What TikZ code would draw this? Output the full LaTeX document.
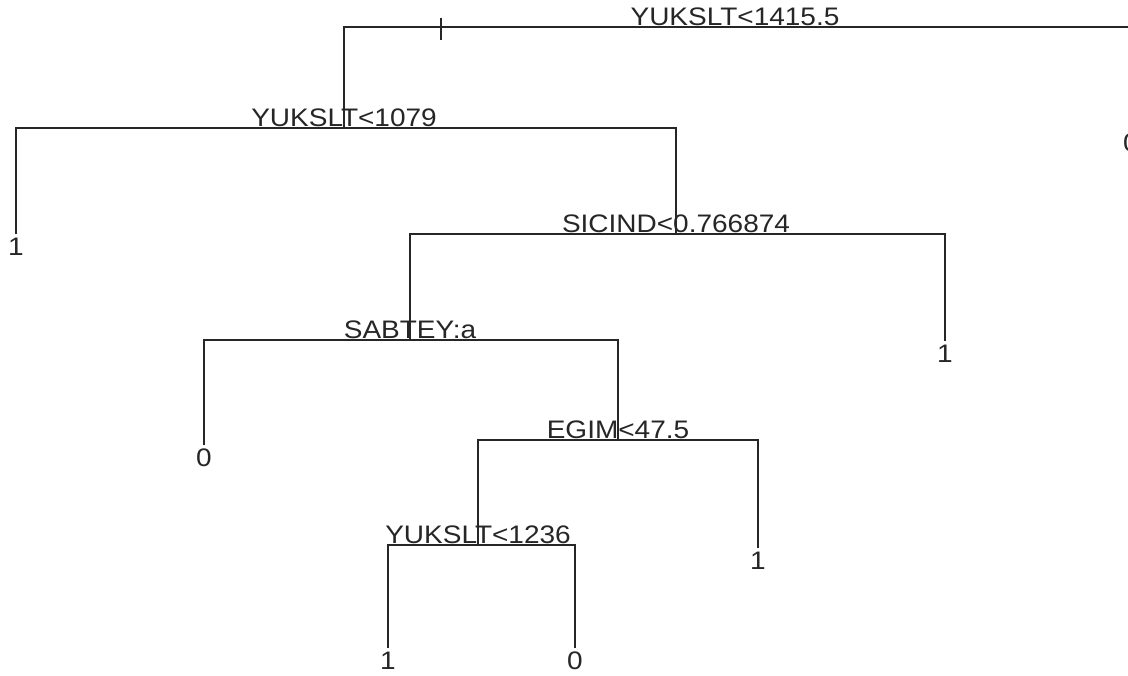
\documentclass[tikz,border=0pt]{standalone}
\usepackage{fontspec}
\setmainfont{Liberation Sans}
\begin{document}
\begin{tikzpicture}[x=0.75pt,y=-0.75pt,
  edge/.style={line width=1.1pt, draw=black!85},
  split/.style={anchor=base, inner sep=0pt, xscale=1.105, font=\fontsize{19}{21}\selectfont, text=black!85},
  leaf/.style={anchor=north, inner sep=0pt, xscale=1.105, font=\fontsize{19}{21}\selectfont, text=black!85}]
\useasboundingbox[fill=white] (0,0) rectangle (1128,675);
% split label positions (horizontal bar y)
\coordinate (r)  at (735,27);
\coordinate (a)  at (344,128);
\coordinate (b)  at (676,234);
\coordinate (c)  at (410,340);
\coordinate (d)  at (618,440);
\coordinate (e)  at (478,545);
% split labels
\node[split] (rl) at ([yshift=1.2pt]r) {YUKSLT<1415.5};
\node[split] (al) at ([yshift=1.2pt]a) {YUKSLT<1079};
\node[split] (bl) at ([yshift=1.2pt]b) {SICIND<0.766874};
\node[split] (cl) at ([yshift=1.2pt]c) {SABTEY:a};
\node[split] (dl) at ([yshift=1.2pt]d) {EGIM<47.5};
\node[split] (el) at ([yshift=1.2pt]e) {YUKSLT<1236};
% leaf end coordinates
\coordinate (rR) at (1131,130);
\coordinate (aL) at (16,234);
\coordinate (bR) at (945,341);
\coordinate (cL) at (204,445);
\coordinate (dR) at (758,548);
\coordinate (eL) at (388,648);
\coordinate (eR) at (575,648);
% leaves
\node[leaf] (lr)  at ([yshift=-3pt]rR) {0};
\node[leaf] (laL) at ([yshift=-3pt]aL) {1};
\node[leaf] (lbR) at ([yshift=-3pt]bR) {1};
\node[leaf] (lcL) at ([yshift=-3pt]cL) {0};
\node[leaf] (ldR) at ([yshift=-3pt]dR) {1};
\node[leaf] (leL) at ([yshift=-2.5pt]eL) {1};
\node[leaf] (leR) at ([yshift=-2.5pt]eR) {0};
% connectors
\draw[edge] (a) -- (a |- r) -- (rR |- r) -- (rR);
\draw[edge] (aL) -- (aL |- a) -- (b |- a) -- (b);
\draw[edge] (c) -- (c |- b) -- (bR |- b) -- (bR);
\draw[edge] (cL) -- (cL |- c) -- (d |- c) -- (d);
\draw[edge] (e) -- (e |- d) -- (dR |- d) -- (dR);
\draw[edge] (eL) -- (eL |- e) -- (eR |- e) -- (eR);
% tick on root bar
\coordinate (tk) at (441,27);
\draw[edge] ([yshift=7pt]tk) -- ([yshift=-9.5pt]tk);
\end{tikzpicture}
\end{document}
